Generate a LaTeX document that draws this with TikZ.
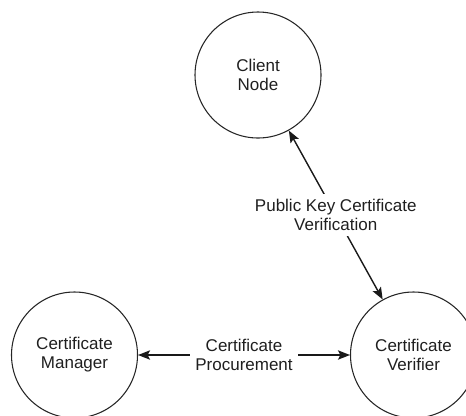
\documentclass[tikz,border=0pt]{standalone}
\usepackage{fontspec}
\setmainfont{Liberation Sans}
\usetikzlibrary{arrows.meta}
\begin{document}
\begin{tikzpicture}[x=0.75pt,y=-0.75pt,
  every node/.style={font=\fontsize{12.75pt}{14.25pt}\selectfont, text=black!88},
  ent/.style={circle, draw=black!85, line width=0.8pt, minimum size=126*0.75pt, inner sep=0pt, align=center},
  lbl/.style={fill=white, align=center, inner sep=4pt},
  conn/.style={draw=black!90, line width=1.05pt, {Stealth[length=9pt,width=7pt,inset=1.8pt]}-{Stealth[length=9pt,width=7pt,inset=1.8pt]}}]
\useasboundingbox (0,0) rectangle (466,415);
\node[ent] (client) at (258,75) {Client\\Node};
\node[ent] (manager) at (74.5,355) {Certificate\\Manager};
\node[ent] (verifier) at (413.5,355) {Certificate\\Verifier};
\draw[conn] (client) -- node[lbl] {Public Key Certificate\\Verification} (verifier);
\draw[conn] (manager) -- node[lbl] {Certificate\\Procurement} (verifier);
\end{tikzpicture}
\end{document}
